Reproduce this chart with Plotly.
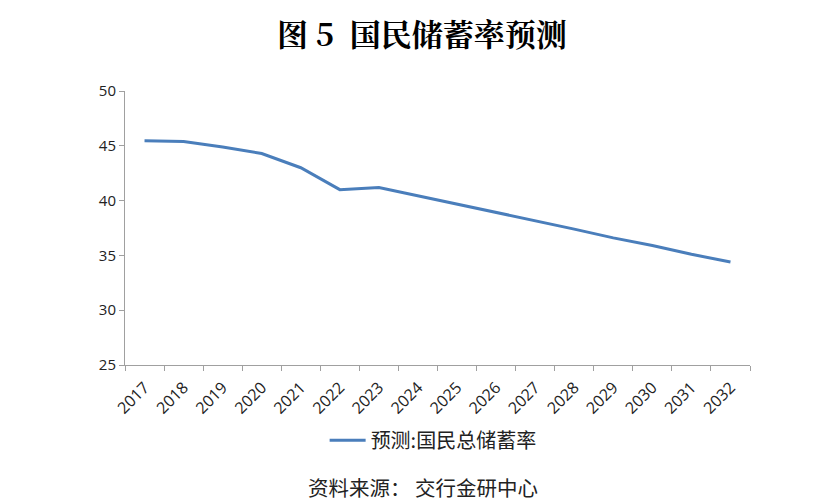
import plotly.graph_objects as go

years = [str(y) for y in range(2017, 2033)]
savings_rate = [45.45, 45.4, 44.9, 44.3, 43.0, 41.0, 41.2, 40.45, 39.7, 38.9,
                38.2, 37.4, 36.6, 35.9, 35.1, 34.4]
series_name = "预测:国民总储蓄率"
title_text = "图 5  国民储蓄率预测"
source_text = "资料来源： 交行金研中心"
y_ticks = [25, 30, 35, 40, 45, 50]

fig = go.Figure()
fig.add_trace(go.Scatter(
    x=years, y=savings_rate, mode="lines", name=series_name,
    line=dict(color="#4a7ebb", width=3),
))

fig.update_layout(
    width=832, height=504,
    margin=dict(l=125, r=82, t=91, b=139),
    plot_bgcolor="white", paper_bgcolor="white",
    showlegend=True,
    legend=dict(orientation="h", x=0.493, xanchor="center", y=-0.275, yanchor="middle",
                font=dict(family="Noto Sans CJK SC", size=20, color="#222"),
                itemwidth=36),
    title=dict(text="<b>" + title_text + "</b>", x=0.507, xanchor="center",
               y=0.93, yanchor="middle",
               font=dict(family="Noto Serif CJK SC, Noto Sans CJK SC", size=31, color="black")),
    xaxis=dict(type="category", tickangle=-45, showgrid=False, showline=True,
               range=[-0.5, 15.5],
               linecolor="#a0a0a0", linewidth=1, ticks="outside", ticklen=5,
               tickcolor="#a0a0a0", tickson="boundaries", ticklabelstandoff=6,
               tickfont=dict(family="Open Sans", size=16, color="#222")),
    yaxis=dict(range=[25, 50], tickvals=y_ticks, showgrid=False, showline=True,
               linecolor="#a0a0a0", linewidth=1, ticks="outside", ticklen=5,
               tickcolor="#a0a0a0", zeroline=False,
               tickfont=dict(family="Open Sans", size=15, color="#222")),
)

fig.add_annotation(text=source_text, xref="paper", yref="paper", x=0.477, y=-0.445,
                   xanchor="center", yanchor="middle", showarrow=False,
                   font=dict(family="Noto Sans CJK SC", size=20.5, color="#222"))

fig.write_html("out.html")
